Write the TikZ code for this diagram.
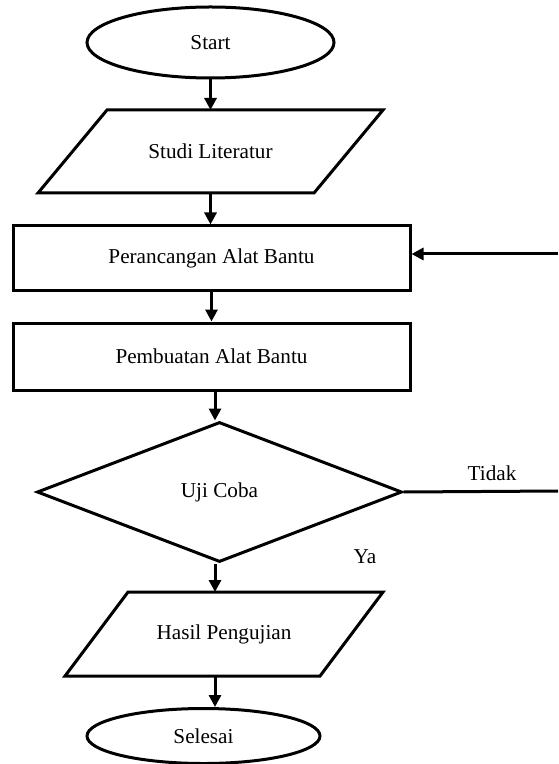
\documentclass[tikz,border=0pt]{standalone}
\usepackage{fontspec}
\setmainfont{Liberation Serif}
\usepackage{tikz}
\usetikzlibrary{shapes.geometric}
\usetikzlibrary{arrows.meta}

\begin{document}
\begin{tikzpicture}[x=0.5pt,y=-0.5pt,
  every node/.style={font=\fontsize{10.6pt}{12pt}\selectfont,inner sep=0pt},
  garis/.style={line width=1.5pt},
  panah/.style={line width=1.5pt,-{Triangle[length=6pt,width=6pt]}},
  terminal/.style={ellipse,draw,line width=1.5pt},
  proses/.style={rectangle,draw,line width=1.5pt,minimum width=198.5pt},
  data/.style={rectangle,outer sep=0pt},
  keputusan/.style={diamond,draw,line width=1.5pt}]
\useasboundingbox (0,0) rectangle (558,764);

% bentuk
\node[terminal,minimum width=123.5pt,minimum height=35.5pt] (start) at (210.5,42.5) {Start};
\node[data,minimum width=138pt,minimum height=41.5pt] (studi) at (210.5,151.5) {Studi Literatur};
\draw[garis] ([xshift=17.25pt]studi.north west) -- ([xshift=17.25pt]studi.north east)
  -- ([xshift=-17.25pt]studi.south east) -- ([xshift=-17.25pt]studi.south west) -- cycle;
\node[proses,minimum height=32.5pt] (rancang) at (211.5,258.5) {Perancangan Alat Bantu};
\node[proses,minimum height=33.5pt] (buat) at (211.5,356.5) {Pembuatan Alat Bantu};
\node[keputusan,minimum width=182.5pt,minimum height=70pt] (uji) at (219.5,492) {Uji Coba};
\node[data,minimum width=127.5pt,minimum height=42pt] (hasil) at (224,634) {Hasil Pengujian};
\draw[garis] ([xshift=15.75pt]hasil.north west) -- ([xshift=15.75pt]hasil.north east)
  -- ([xshift=-15.75pt]hasil.south east) -- ([xshift=-15.75pt]hasil.south west) -- cycle;
\node[terminal,minimum width=116.5pt,minimum height=27.5pt] (selesai) at (203.5,736) {Selesai};

% label
\node (tidak) at (492,473) {Tidak};
\node (ya) at (365,557) {Ya};
\coordinate (ujung) at (558,491);
\coordinate (balik) at (558,254);

% alur
\draw[panah] (start) -- (studi);
\draw[panah] (studi.south -| start.south) -- (start.south |- rancang.north);
\draw[panah] (rancang) -- (buat);
\draw[panah] (buat.south -| 215,0) -- (215,0 |- uji.north);
\draw[panah] (215,0 |- uji.south) -- (215,0 |- hasil.north);
\draw[panah] (215,0 |- hasil.south) -- (215,0 |- selesai.north);
\draw[garis] (uji.east) -- (ujung);
\draw[panah] (balik) -- (balik -| rancang.east);
\end{tikzpicture}
\end{document}
